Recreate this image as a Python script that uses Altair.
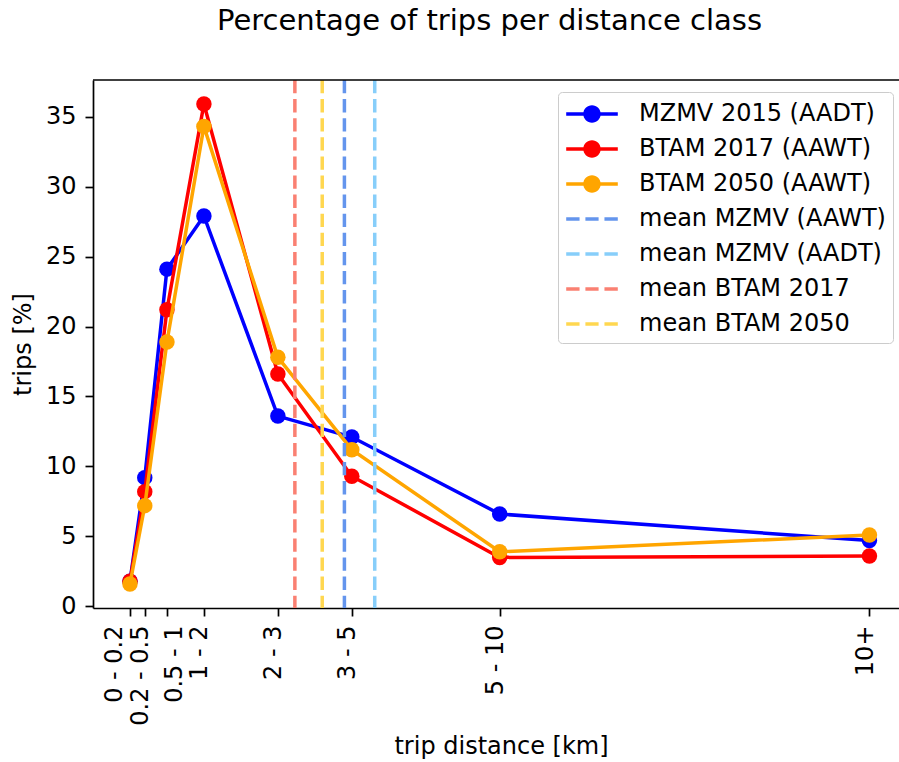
import json

import altair as alt
import pandas as pd

# Distance classes: lower bound of each class (x position) and its label
class_pos = [0, 0.2, 0.5, 1, 2, 3, 5, 10]
class_labels = ["0 - 0.2", "0.2 - 0.5", "0.5 - 1", "1 - 2", "2 - 3", "3 - 5", "5 - 10", "10+"]

# Share of trips [%] per distance class
mzmv_2015 = [1.8, 9.2, 24.1, 27.9, 13.6, 12.1, 6.6, 4.7]
btam_2017 = [1.8, 8.2, 21.2, 35.9, 16.6, 9.3, 3.5, 3.6]
btam_2050 = [1.6, 7.2, 18.9, 34.3, 17.8, 11.2, 3.9, 5.1]

series_names = ["MZMV 2015 (AADT)", "BTAM 2017 (AAWT)", "BTAM 2050 (AAWT)"]
series_colors = ["#0000ff", "#ff0000", "#ffa500"]

# Mean trip distance [km]
mean_names = ["mean MZMV (AAWT)", "mean MZMV (AADT)", "mean BTAM 2017", "mean BTAM 2050"]
mean_values = [2.90, 3.31, 2.23, 2.60]
mean_colors = ["#6495ed", "#87cefa", "#fa8072", "#ffd750"]

FONT = "DejaVu Sans"
FS = 24
W, H = 806, 528

rows = []
for name, vals in zip(series_names, [mzmv_2015, btam_2017, btam_2050]):
    for i, (p, v) in enumerate(zip(class_pos, vals)):
        rows.append({"series": name, "pos": p, "value": v, "idx": i})
df_series = pd.DataFrame(rows)
df_means = pd.DataFrame({"series": mean_names, "mean": mean_values})
df_legend = pd.DataFrame({"series": series_names + mean_names})

# legend glyphs: line with a dot, and a dashed line (unit = 15 px)
LINE_DOT = ("M -1.72 -0.12 H 1.72 V 0.12 H -1.72 Z "
            "M -0.58 0 A 0.58 0.58 0 1 1 0.58 0 A 0.58 0.58 0 1 1 -0.58 0 Z")
DASHED = ("M -1.72 -0.12 H -0.83 V 0.12 H -1.72 Z "
          "M -0.44 -0.12 H 0.44 V 0.12 H -0.44 Z "
          "M 0.83 -0.12 H 1.72 V 0.12 H 0.83 Z")

all_names = series_names + mean_names
color_scale = alt.Scale(domain=all_names, range=series_colors + mean_colors)
shape_scale = alt.Scale(domain=all_names, range=[LINE_DOT] * 3 + [DASHED] * 4)

legend = alt.Legend(
    title=None, orient="none", legendX=465, legendY=12,
    symbolSize=900, symbolStrokeWidth=0, symbolOffset=12,
    labelFont=FONT, labelFontSize=FS, labelColor="black", labelLimit=500,
    labelOffset=32, rowPadding=8, padding=7,
    fillColor="white", strokeColor="#cccccc", cornerRadius=4,
)

x_scale = alt.Scale(domain=[-0.5, 10.4], nice=False, zero=False)
y_scale = alt.Scale(domain=[-0.115, 37.615], nice=False, zero=False)

label_expr = f"{json.dumps(class_labels)}[indexof({json.dumps(class_pos)}, datum.value)]"
x_axis = alt.Axis(
    title="trip distance [km]", values=class_pos, labelExpr=label_expr,
    labelAngle=-90, labelAlign="right", labelBaseline="middle",
    labelOverlap=False, labelFlush=False, labelPadding=9,
    labelOffset={
        "condition": [
            {"test": "datum.value == 0", "value": -15},
            {"test": "datum.value == 0.5", "value": 8},
        ],
        "value": -4,
    },
    titlePadding=9, titleX=408,
)
y_axis = alt.Axis(
    title="trips [%]", values=[0, 5, 10, 15, 20, 25, 30, 35],
    labelPadding=9, titlePadding=10,
)

color_enc = alt.Color("series:N", scale=color_scale, legend=legend)

# empty layer that carries the legend glyphs
legend_layer = alt.Chart(df_legend).mark_point(filled=True, opacity=1).encode(
    color=color_enc,
    shape=alt.Shape("series:N", scale=shape_scale, legend=legend),
).transform_filter("datum.series == 'none'")

layers = [legend_layer]
for name in series_names:
    base = alt.Chart(df_series).transform_filter(alt.datum.series == name).encode(
        x=alt.X("pos:Q", scale=x_scale, axis=x_axis),
        y=alt.Y("value:Q", scale=y_scale, axis=y_axis),
        color=color_enc,
        order="idx:Q",
    )
    layers.append(base.mark_line(strokeWidth=3.5))
    layers.append(base.mark_circle(size=240, opacity=1))

mean_rules = alt.Chart(df_means).mark_rule(strokeWidth=3.5, strokeDash=[13.3, 5.8]).encode(
    x=alt.X("mean:Q", scale=x_scale, axis=x_axis),
    color=color_enc,
)
layers.append(mean_rules)

# top edge of the plot frame
top_edge = alt.Chart(pd.DataFrame({"k": [0]})).mark_rule(color="black", strokeWidth=1.7).encode(
    x=alt.value(0), x2=alt.value(W), y=alt.value(0)
)
layers.append(top_edge)

chart = alt.layer(*layers).properties(
    width=W, height=H,
    title=alt.TitleParams(
        "Percentage of trips per distance class",
        font=FONT, fontSize=29, fontWeight="normal", color="black",
        anchor="middle", frame="group", offset=42, dx=-6.5,
    ),
    autosize=alt.AutoSizeParams(type="none"),
    padding={"left": 93, "top": 80, "right": 0, "bottom": 154},
).configure(font=FONT).configure_view(stroke=None).configure_axis(
    grid=False,
    labelFont=FONT, labelFontSize=FS, labelColor="black",
    titleFont=FONT, titleFontSize=FS, titleFontWeight="normal", titleColor="black",
    tickColor="black", tickSize=8, tickWidth=1.7,
    domainColor="black", domainWidth=1.7,
)

chart.save("out.html", embed_options={"renderer": "svg", "actions": False})
